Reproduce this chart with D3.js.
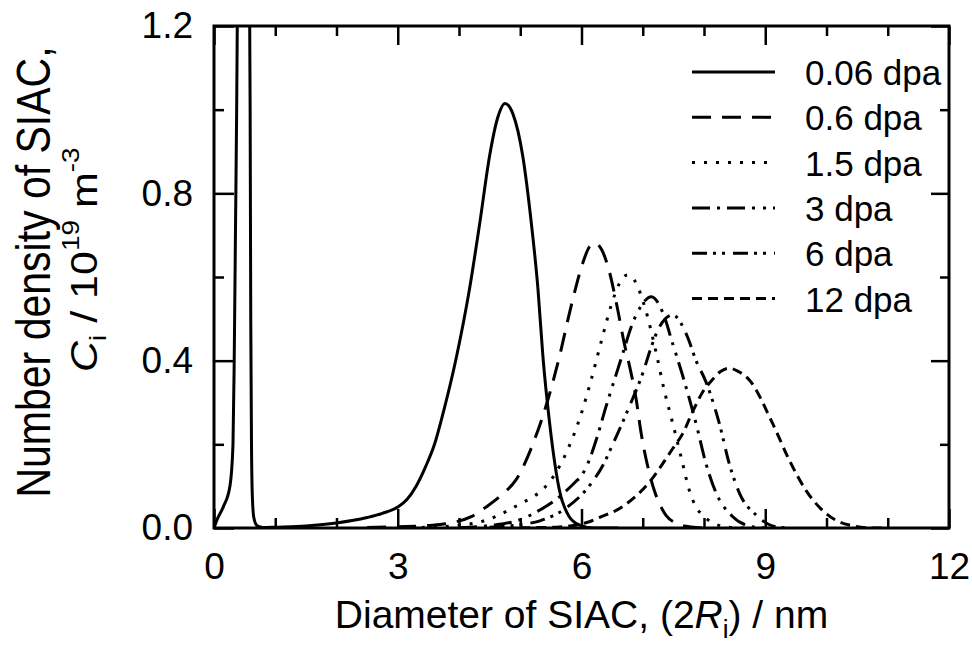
<!DOCTYPE html>
<html>
<head>
<meta charset="utf-8">
<script src="https://cdn.jsdelivr.net/npm/d3@7"></script>
<style>
  html, body { margin: 0; padding: 0; background: #fff; }
  svg text { font-family: "Liberation Sans", Arial, sans-serif; fill: #000; }
</style>
</head>
<body>
<svg id="chart" width="972" height="645"></svg>
<script>

// axis ticks
var xTicksMajor = [0, 3, 6, 9, 12];
var xTicksMinor = [1, 2, 4, 5, 7, 8, 10, 11];
var yTicksMajor = [0, 0.4, 0.8, 1.2];
var yTicksMinor = [0.2, 0.6, 1.0];

var seriesLabels = ['0.06 dpa', '0.6 dpa', '1.5 dpa', '3 dpa', '6 dpa', '12 dpa'];

// [diameter (nm), number density (1e19 m^-3)]
var dpa006 = [[0, 0], [0.05, 0.02], [0.15, 0.05], [0.26, 0.1], [0.31, 0.2], [0.33, 0.4], [0.35, 0.7],
	[0.37, 1.0], [0.385, 1.3], [0.45, 2.0], [0.53, 2.0], [0.575, 1.4], [0.59, 1.0], [0.6, 0.5],
	[0.612, 0.2], [0.625, 0.08], [0.65, 0.025], [0.7, 0.006], [0.8, 0.001], [1.0, 0.002],
	[1.5, 0.005], [2.0, 0.012], [2.5, 0.025], [2.75, 0.035], [3.0, 0.05], [3.15, 0.068],
	[3.3, 0.1], [3.45, 0.145], [3.6, 0.2], [3.75, 0.28], [3.96, 0.41], [4.17, 0.57],
	[4.34, 0.73], [4.5, 0.89], [4.63, 0.98], [4.75, 1.015], [4.88, 0.99], [5.04, 0.89],
	[5.18, 0.73], [5.29, 0.57], [5.37, 0.41], [5.48, 0.25], [5.64, 0.09], [5.8, 0.027],
	[5.97, 0.007], [6.2, 0], [6.6, 0]];
var dpa06 = [[2.5, 0.001], [3.0, 0.003], [3.5, 0.006], [3.9, 0.013], [4.2, 0.027], [4.45, 0.051],
	[4.7, 0.08], [4.93, 0.115], [5.23, 0.21], [5.45, 0.306], [5.64, 0.41], [5.83, 0.53],
	[6.02, 0.633], [6.12, 0.67], [6.22, 0.681], [6.33, 0.665], [6.46, 0.61], [6.58, 0.53],
	[6.7, 0.44], [6.78, 0.39], [6.89, 0.31], [6.97, 0.23], [7.11, 0.13], [7.2, 0.085],
	[7.3, 0.05], [7.38, 0.03], [7.54, 0.012], [7.71, 0.004], [7.87, 0.001], [8.1, 0]];
var dpa15 = [[3.0, 0.0005], [3.5, 0.002], [4.06, 0.007], [4.45, 0.019], [4.99, 0.057], [5.31, 0.085],
	[5.45, 0.105], [5.72, 0.17], [6.0, 0.275], [6.15, 0.35], [6.33, 0.45], [6.48, 0.53],
	[6.62, 0.585], [6.75, 0.605], [6.86, 0.593], [7.05, 0.52], [7.22, 0.418], [7.35, 0.33],
	[7.49, 0.25], [7.65, 0.155], [7.75, 0.095], [7.87, 0.05], [8.0, 0.028], [8.14, 0.012],
	[8.47, 0.001], [8.7, 0]];
var dpa3 = [[4.0, 0.001], [4.5, 0.006], [5.0, 0.02], [5.32, 0.043], [5.6, 0.07], [5.9, 0.11],
	[6.0, 0.125], [6.12, 0.16], [6.25, 0.215], [6.4, 0.29], [6.55, 0.36], [6.68, 0.42],
	[6.81, 0.48], [6.97, 0.53], [7.14, 0.553], [7.33, 0.514], [7.49, 0.44], [7.65, 0.365],
	[7.87, 0.25], [8.03, 0.155], [8.2, 0.083], [8.47, 0.027], [8.79, 0.003], [9.0, 0]];
var dpa6 = [[4.5, 0.002], [5.0, 0.008], [5.32, 0.017], [5.75, 0.048], [6.15, 0.105], [6.35, 0.15],
	[6.51, 0.2], [6.78, 0.29], [7.0, 0.37], [7.14, 0.433], [7.27, 0.48], [7.49, 0.509],
	[7.73, 0.457], [7.87, 0.4], [8.03, 0.35], [8.25, 0.25], [8.41, 0.155], [8.58, 0.083],
	[8.85, 0.031], [9.17, 0.003], [9.4, 0]];
var dpa12 = [[5.0, 0.0005], [5.59, 0.002], [6.13, 0.015], [6.29, 0.025], [6.67, 0.051], [7.11, 0.11],
	[7.49, 0.19], [7.65, 0.225], [7.82, 0.28], [8.0, 0.33], [8.14, 0.355], [8.27, 0.374],
	[8.41, 0.382], [8.55, 0.375], [8.74, 0.354], [9.12, 0.25], [9.39, 0.163], [9.66, 0.091],
	[9.99, 0.035], [10.37, 0.007], [10.75, 0], [11, 0]];

var seriesData = [dpa006, dpa06, dpa15, dpa3, dpa6, dpa12];
// line styles, same order as the labels
var dashes = ['none', '19,11', '3,9', '18,7,3,7,18,7,3,8,3,7', '15,6,3,6,3,8', '10,6'];

var margin = {top: 26, right: 23, bottom: 117, left: 214},
	width = 972 - margin.left - margin.right,
	height = 645 - margin.top - margin.bottom;

var svg = d3.select('#chart');

var x = d3.scaleLinear().domain([0, 12]).range([0, width]);
var y = d3.scaleLinear().domain([0, 1.2]).range([height, 0]);

var main = svg.append('g')
	.attr('transform', 'translate(' + margin.left + ',' + margin.top + ')');

main.append('clipPath').attr('id', 'plot-clip')
	.append('rect').attr('x', 0).attr('y', 0).attr('width', width).attr('height', height);

// ticks (all pointing inwards) on the four sides
function tickAxis(axis, transform, labelled) {
	var g = main.append('g').attr('transform', transform).call(axis);
	g.select('.domain').remove();
	g.selectAll('.tick line').attr('stroke', '#000').attr('stroke-width', 2.5);
	if (!labelled) { g.selectAll('text').remove(); }
	return g;
}

var xb = tickAxis(d3.axisBottom(x).tickValues(xTicksMajor).tickSize(-19).tickPadding(25)
	.tickFormat(d3.format('d')), 'translate(0,' + height + ')', true);
tickAxis(d3.axisBottom(x).tickValues(xTicksMinor).tickSize(-10).tickFormat(''), 'translate(0,' + height + ')', false);
tickAxis(d3.axisTop(x).tickValues(xTicksMajor).tickSize(-19).tickFormat(''), 'translate(0,0)', false);
tickAxis(d3.axisTop(x).tickValues(xTicksMinor).tickSize(-10).tickFormat(''), 'translate(0,0)', false);

var yl = tickAxis(d3.axisLeft(y).tickValues(yTicksMajor).tickSize(-20).tickPadding(21)
	.tickFormat(d3.format('.1f')), 'translate(0,0)', true);
tickAxis(d3.axisLeft(y).tickValues(yTicksMinor).tickSize(-10).tickFormat(''), 'translate(0,0)', false);
tickAxis(d3.axisRight(y).tickValues(yTicksMajor).tickSize(-18).tickFormat(''), 'translate(' + width + ',0)', false);
tickAxis(d3.axisRight(y).tickValues(yTicksMinor).tickSize(-9).tickFormat(''), 'translate(' + width + ',0)', false);

xb.selectAll('text').attr('font-size', 37).attr('font-family', '"Liberation Sans", Arial, sans-serif');
yl.selectAll('text').attr('font-size', 37).attr('font-family', '"Liberation Sans", Arial, sans-serif');

// curves
var line = d3.line()
	.x(function (d) { return x(d[0]); })
	.y(function (d) { return y(d[1]); })
	.curve(d3.curveMonotoneX);

main.append('g').attr('clip-path', 'url(#plot-clip)')
	.selectAll('path.curve')
	.data(seriesData)
	.enter().append('path')
		.attr('class', 'curve')
		.attr('d', function (d) { return line(d); })
		.attr('fill', 'none')
		.attr('stroke', '#000')
		.attr('stroke-width', 3)
		.attr('stroke-dasharray', function (d, i) { return dashes[i]; });

// frame
main.append('rect')
	.attr('x', 0).attr('y', 0).attr('width', width).attr('height', height)
	.attr('fill', 'none').attr('stroke', '#000').attr('stroke-width', 3);

// legend
var legend = main.append('g').attr('transform', 'translate(' + (692 - margin.left) + ',' + (72 - margin.top) + ')');
var row = legend.selectAll('g.row')
	.data(seriesLabels)
	.enter().append('g')
		.attr('class', 'row')
		.attr('transform', function (d, i) { return 'translate(0,' + (i * 45.3) + ')'; });
row.append('line')
	.attr('x1', 0).attr('x2', 83).attr('y1', 0).attr('y2', 0)
	.attr('stroke', '#000').attr('stroke-width', 3)
	.attr('stroke-dasharray', function (d, i) { return dashes[i]; });
row.append('text')
	.attr('x', 113).attr('y', 13)
	.attr('font-size', 35)
	.text(function (d) { return d; });

// x title
var xt = svg.append('text')
	.attr('x', margin.left + width / 2).attr('y', 628)
	.attr('text-anchor', 'middle')
	.attr('font-size', 39);
xt.append('tspan').text('Diameter of SIAC, (2');
xt.append('tspan').attr('font-style', 'italic').text('R');
xt.append('tspan').attr('font-size', 26).attr('dy', 10).text('i');
xt.append('tspan').attr('dy', -10).text(') / nm');

// y title, two lines
svg.append('text')
	.attr('transform', 'translate(50,272) scale(1.15,1) rotate(-90)')
	.attr('text-anchor', 'middle')
	.attr('font-size', 41)
	.text('Number density of SIAC,');

var yt = svg.append('text')
	.attr('transform', 'translate(97,372) scale(0.85,1) rotate(-90)')
	.attr('font-size', 43);
yt.append('tspan').attr('font-style', 'italic').text('C');
yt.append('tspan').attr('font-size', 28).attr('dy', 11).text('i');
yt.append('tspan').attr('dy', -11).text(' / 10');
yt.append('tspan').attr('font-size', 28).attr('dy', -21).text('19');
yt.append('tspan').attr('dy', 21).text(' m');
yt.append('tspan').attr('font-size', 28).attr('dy', -21).text('-3');

</script>
</body>
</html>
